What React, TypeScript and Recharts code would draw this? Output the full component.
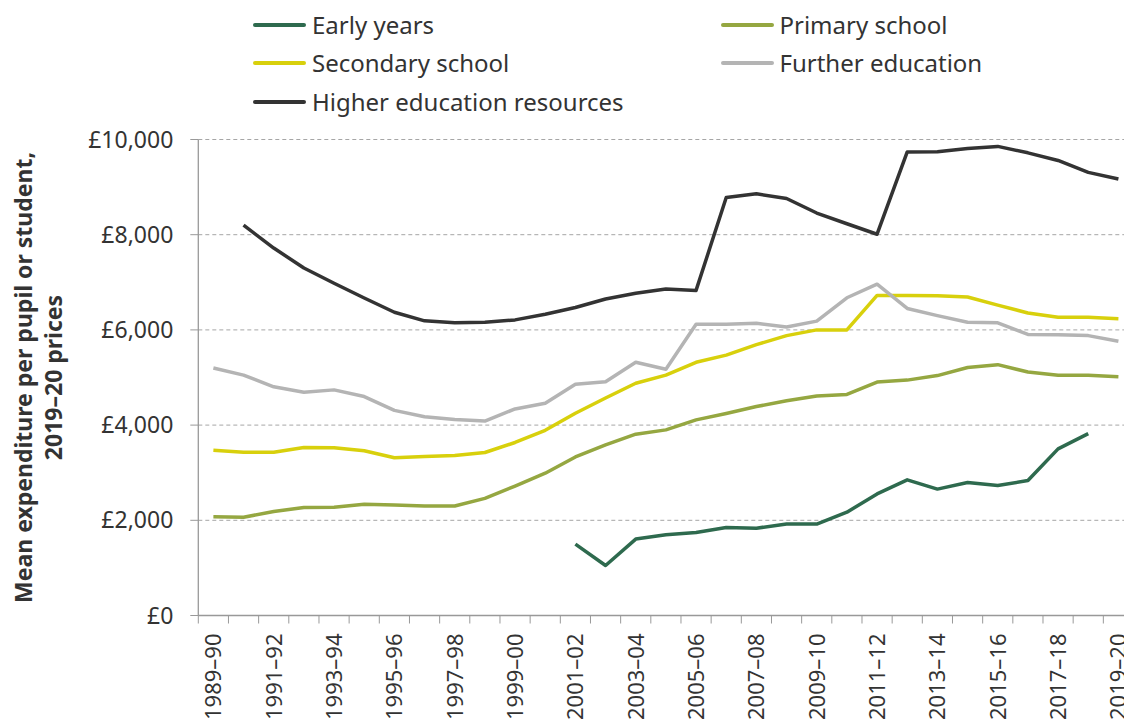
import React from 'react';
import { LineChart, Line, XAxis, YAxis, CartesianGrid } from 'recharts';

// ---------- data ----------
const categories = [
  '1989–90', '1990–91', '1991–92', '1992–93', '1993–94', '1994–95', '1995–96', '1996–97',
  '1997–98', '1998–99', '1999–00', '2000–01', '2001–02', '2002–03', '2003–04', '2004–05',
  '2005–06', '2006–07', '2007–08', '2008–09', '2009–10', '2010–11', '2011–12', '2012–13',
  '2013–14', '2014–15', '2015–16', '2016–17', '2017–18', '2018–19', '2019–20',
];

const earlyYears = [
  null, null, null, null, null, null, null, null, null, null, null, null,
  1500, 1050, 1605, 1695, 1745, 1850, 1835, 1920, 1920, 2170, 2555, 2850,
  2655, 2795, 2730, 2835, 3500, 3820, null,
];

const primarySchool = [
  2075, 2065, 2185, 2270, 2275, 2335, 2320, 2300, 2300, 2460, 2720, 2990,
  3330, 3585, 3810, 3900, 4110, 4245, 4390, 4510, 4610, 4645, 4905, 4945,
  5040, 5210, 5270, 5115, 5045, 5045, 5015,
];

const secondarySchool = [
  3470, 3430, 3430, 3530, 3525, 3460, 3315, 3340, 3360, 3425, 3635, 3890,
  4250, 4570, 4880, 5050, 5320, 5470, 5690, 5880, 6000, 6000, 6725, 6725,
  6720, 6690, 6520, 6355, 6265, 6265, 6235,
];

const furtherEducation = [
  5200, 5050, 4805, 4690, 4740, 4600, 4310, 4175, 4120, 4085, 4340, 4460,
  4860, 4910, 5320, 5175, 6120, 6120, 6140, 6060, 6185, 6675, 6960, 6450,
  6300, 6160, 6150, 5905, 5900, 5880, 5760,
];

const higherEducation = [
  null, 8200, 7720, 7300, 6980, 6670, 6370, 6190, 6150, 6160, 6210, 6330,
  6470, 6650, 6770, 6860, 6830, 8780, 8860, 8760, 8455, 8230, 8010, 9740,
  9745, 9810, 9855, 9720, 9560, 9310, 9170,
];

const yTicks = [0, 2000, 4000, 6000, 8000, 10000];

const seriesNames = [
  'Early years', 'Primary school', 'Secondary school', 'Further education', 'Higher education resources',
];

// ---------- styles / layout ----------
const COLORS = {
  early: '#2e6a4e',
  primary: '#95a741',
  secondary: '#d8d00c',
  further: '#b4b4b4',
  higher: '#333333',
};
const FONT = '"Noto Sans", "Open Sans", sans-serif';
const TEXT = '#333333';
const AXIS = '#999999';

const CHART_W = 1140;
const CHART_H = 724;
const PLOT_LEFT = 198.3;
const PLOT_RIGHT = 1133.5;
const PLOT_TOP = 139.5;
const PLOT_BOTTOM = 615.5;
const BAND = (PLOT_RIGHT - PLOT_LEFT) / categories.length;

const data = categories.map((cat, i) => ({
  cat,
  early: earlyYears[i],
  primary: primarySchool[i],
  secondary: secondarySchool[i],
  further: furtherEducation[i],
  higher: higherEducation[i],
}));

const legendItems = [
  { name: seriesNames[0], color: COLORS.early, col: 0, row: 0 },
  { name: seriesNames[1], color: COLORS.primary, col: 1, row: 0 },
  { name: seriesNames[2], color: COLORS.secondary, col: 0, row: 1 },
  { name: seriesNames[3], color: COLORS.further, col: 1, row: 1 },
  { name: seriesNames[4], color: COLORS.higher, col: 0, row: 2 },
];
const LEGEND_COL_X = [253, 720.5];
const LEGEND_ROW_Y = [24.5, 63, 101.5];

const XTick = (props: any) => {
  const { x, y, index, payload } = props;
  const n = categories.length;
  return (
    <g>
      <line x1={x - BAND / 2} x2={x - BAND / 2} y1={y} y2={y + 8} stroke={AXIS} strokeWidth={1} />
      {index === n - 1 && (
        <line x1={x + BAND / 2} x2={x + BAND / 2} y1={y} y2={y + 8} stroke={AXIS} strokeWidth={1} />
      )}
      {index % 2 === 0 && (
        <text
          transform={`translate(${x + 8}, ${y + 18}) rotate(-90)`}
          textAnchor="end"
          fontSize={22}
          fontFamily={FONT}
          fill={TEXT}
        >
          {payload.value}
        </text>
      )}
    </g>
  );
};

const YTitle = (props: any) => {
  const vb = props.viewBox || {};
  const cy = (vb.y ?? PLOT_TOP) + (vb.height ?? PLOT_BOTTOM - PLOT_TOP) / 2;
  return (
    <text
      transform={`translate(0, ${cy}) rotate(-90)`}
      textAnchor="middle"
      fontSize={23}
      fontWeight={700}
      fontFamily={FONT}
      fill={TEXT}
    >
      <tspan x={0} y={32}>Mean expenditure per pupil or student,</tspan>
      <tspan x={0} y={62}>2019–20 prices</tspan>
    </text>
  );
};

const fmt = (v: number) => '£' + v.toLocaleString('en-GB');

export default function App() {
  return (
    <div
      style={{
        position: 'fixed',
        left: 0,
        top: 0,
        width: 1124,
        height: 724,
        overflow: 'hidden',
        background: '#ffffff',
      }}
    >
      <LineChart
        width={CHART_W}
        height={CHART_H}
        data={data}
        margin={{ top: PLOT_TOP, right: CHART_W - PLOT_RIGHT, left: 0, bottom: 0 }}
      >
        <CartesianGrid vertical={false} stroke="#a6a6a6" strokeDasharray="4 3" />
        <XAxis
          dataKey="cat"
          interval={0}
          padding={{ left: BAND / 2, right: BAND / 2 }}
          height={CHART_H - PLOT_BOTTOM}
          tickSize={0}
          tickMargin={0}
          tickLine={false}
          axisLine={{ stroke: AXIS, strokeWidth: 1.3 }}
          tick={(p: any) => <XTick {...p} />}
        />
        <YAxis
          width={PLOT_LEFT}
          domain={[0, 10000]}
          ticks={yTicks}
          interval={0}
          tickFormatter={fmt}
          tickSize={8}
          tickMargin={17}
          axisLine={{ stroke: AXIS, strokeWidth: 1.3 }}
          tickLine={{ stroke: AXIS, strokeWidth: 1 }}
          tick={{ fontSize: 23, fill: TEXT, fontFamily: FONT }}
          label={{ content: (p: any) => <YTitle {...p} /> }}
        />
        <Line dataKey="early" name={seriesNames[0]} stroke={COLORS.early} strokeWidth={3.5} dot={false} isAnimationActive={false} strokeLinejoin="round" />
        <Line dataKey="primary" name={seriesNames[1]} stroke={COLORS.primary} strokeWidth={3.5} dot={false} isAnimationActive={false} strokeLinejoin="round" />
        <Line dataKey="secondary" name={seriesNames[2]} stroke={COLORS.secondary} strokeWidth={3.5} dot={false} isAnimationActive={false} strokeLinejoin="round" />
        <Line dataKey="further" name={seriesNames[3]} stroke={COLORS.further} strokeWidth={3.5} dot={false} isAnimationActive={false} strokeLinejoin="round" />
        <Line dataKey="higher" name={seriesNames[4]} stroke={COLORS.higher} strokeWidth={3.5} dot={false} isAnimationActive={false} strokeLinejoin="round" />
      </LineChart>
      {legendItems.map((it) => (
        <div
          key={it.name}
          style={{
            position: 'absolute',
            left: LEGEND_COL_X[it.col],
            top: LEGEND_ROW_Y[it.row] - 17,
            height: 34,
            display: 'flex',
            alignItems: 'center',
            fontFamily: FONT,
            fontSize: 24,
            color: TEXT,
            whiteSpace: 'nowrap',
          }}
        >
          <div style={{ width: 53, height: 4, background: it.color, borderRadius: 2, marginRight: 6 }} />
          <span style={{ lineHeight: '34px' }}>{it.name}</span>
        </div>
      ))}
    </div>
  );
}
